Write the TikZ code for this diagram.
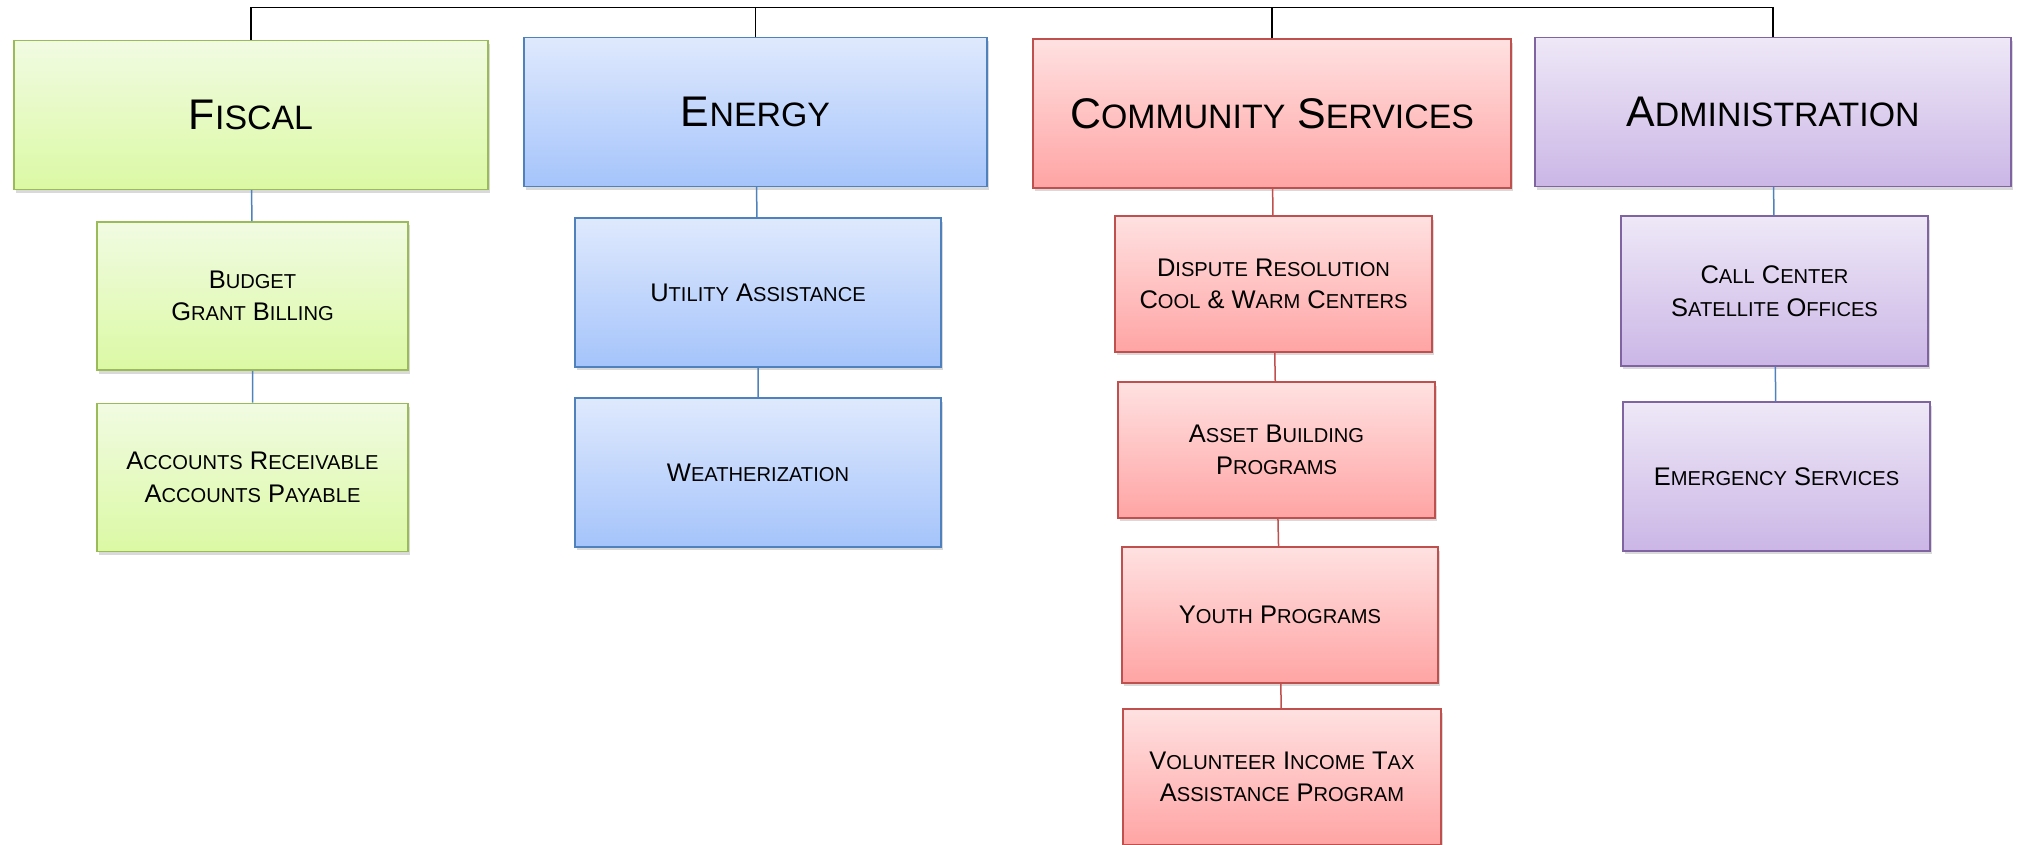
\documentclass[tikz,border=0pt]{standalone}
\usepackage[rgb]{xcolor}
\usepackage{fontspec}
\setmainfont{Liberation Sans}
\usepackage{tikz}
\usetikzlibrary{shadows}

\definecolor{greentop}{HTML}{F1FBE2}
\definecolor{greenbot}{HTML}{DBF9A4}
\definecolor{greenline}{HTML}{9BBB59}
\definecolor{bluetop}{HTML}{DFE9FD}
\definecolor{bluebot}{HTML}{A5C4FB}
\definecolor{blueline}{HTML}{4F81BD}
\definecolor{redtop}{HTML}{FFE1E1}
\definecolor{redbot}{HTML}{FFA4A4}
\definecolor{redline}{HTML}{C0504D}
\definecolor{violettop}{HTML}{EEE8F7}
\definecolor{violetbot}{HTML}{CBB6E6}
\definecolor{violetline}{HTML}{8064A2}

% fake small caps: rest of a word a bit smaller
\makeatletter
\newcommand{\sm}[1]{{\@tempdima=\f@size pt\@tempdima=0.79\@tempdima
  \edef\smsize{\strip@pt\@tempdima}\fontsize{\smsize}{\smsize}\selectfont #1}}
\makeatother

\tikzset{
  box/.style={draw, line width=0.03cm, inner sep=0pt, align=center,
    drop shadow={shadow xshift=0.04cm, shadow yshift=-0.07cm, opacity=0.3}},
  head/.style={box, minimum height=2.98cm, font=\fontsize{24.4}{29}\selectfont},
  kid/.style={box, font=\fontsize{14.5}{18.5}\selectfont},
  fiscalbox/.style={draw=greenline, top color=greentop, bottom color=greenbot},
  energybox/.style={draw=blueline, top color=bluetop, bottom color=bluebot},
  commubox/.style={draw=redline, top color=redtop, bottom color=redbot},
  adminbox/.style={draw=violetline, top color=violettop, bottom color=violetbot},
  link/.style={line width=0.03cm, draw=blueline},
}

\begin{document}
\begin{tikzpicture}[x=0.02cm, y=-0.02cm]

\useasboundingbox (0,0) rectangle (2019,845);
\clip (0,0) rectangle (2019,845);

% the four departments
\node[head, fiscalbox, minimum width=9.48cm] (fiscal) at (251,115) {F\sm{ISCAL}};
\node[head, energybox, minimum width=9.26cm] (energy) at (755.5,112) {E\sm{NERGY}};
\node[head, commubox, minimum width=9.56cm] (commu) at (1272,113.5) {C\sm{OMMUNITY} S\sm{ERVICES}};
\node[head, adminbox, minimum width=9.52cm] (admin) at (1773,112) {A\sm{DMINISTRATION}};

% fiscal
\node[kid, fiscalbox, minimum width=6.22cm, minimum height=2.97cm] (budget) at (252.5,296)
  {B\sm{UDGET}\\ G\sm{RANT} B\sm{ILLING}};
\node[kid, fiscalbox, minimum width=6.22cm, minimum height=2.97cm] (accounts) at (252.5,477.5)
  {A\sm{CCOUNTS} R\sm{ECEIVABLE}\\ A\sm{CCOUNTS} P\sm{AYABLE}};

% energy
\node[kid, energybox, minimum width=7.32cm, minimum height=2.98cm] (utility) at (758,292.5)
  {U\sm{TILITY} A\sm{SSISTANCE}};
\node[kid, energybox, minimum width=7.32cm, minimum height=2.98cm] (weather) at (758,472.5)
  {W\sm{EATHERIZATION}};

% community services
\node[kid, commubox, minimum width=6.34cm, minimum height=2.72cm] (dispute) at (1273.5,284)
  {D\sm{ISPUTE} R\sm{ESOLUTION}\\ C\sm{OOL} \& W\sm{ARM} C\sm{ENTERS}};
\node[kid, commubox, minimum width=6.34cm, minimum height=2.72cm] (asset) at (1276.5,450)
  {A\sm{SSET} B\sm{UILDING}\\ P\sm{ROGRAMS}};
\node[kid, commubox, minimum width=6.32cm, minimum height=2.72cm] (youth) at (1280,615)
  {Y\sm{OUTH} P\sm{ROGRAMS}};
\node[kid, commubox, minimum width=6.36cm, minimum height=2.72cm] (vita) at (1282,777)
  {V\sm{OLUNTEER} I\sm{NCOME} T\sm{AX}\\ A\sm{SSISTANCE} P\sm{ROGRAM}};

% administration
\node[kid, adminbox, minimum width=6.14cm, minimum height=3cm] (callctr) at (1774.5,291)
  {C\sm{ALL} C\sm{ENTER}\\ S\sm{ATELLITE} O\sm{FFICES}};
\node[kid, adminbox, minimum width=6.14cm, minimum height=2.98cm] (emerg) at (1776.5,476.5)
  {E\sm{MERGENCY} S\sm{ERVICES}};

% top bar
\coordinate (top) at (0,7.5);
\draw[line width=0.035cm] (fiscal.north) -- (fiscal.north |- top) -| (admin.north);
\foreach \d in {energy, commu}
  \draw[line width=0.035cm] (\d.north) -- (\d.north |- top);

% links down each column
\draw[link] (fiscal) -- (budget) -- (accounts);
\draw[link] (energy) -- (utility) -- (weather);
\draw[link, draw=redline] (commu) -- (dispute) -- (asset) -- (youth) -- (vita);
\draw[link] (admin) -- (callctr) -- (emerg);

\end{tikzpicture}
\end{document}
